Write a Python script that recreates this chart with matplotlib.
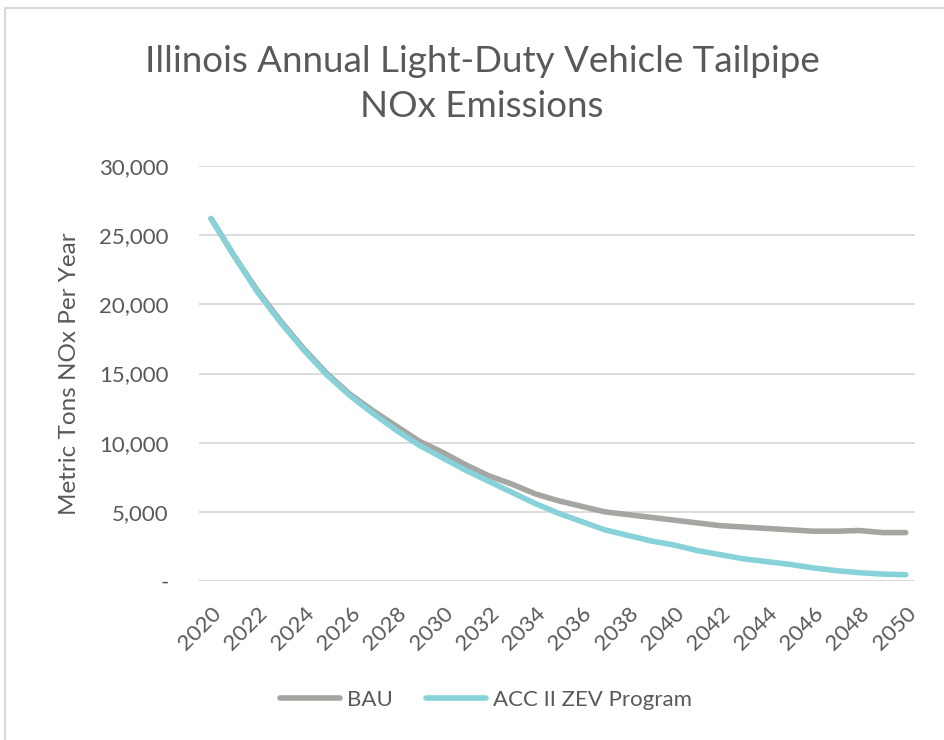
import matplotlib.pyplot as plt
from matplotlib.patches import Rectangle
from matplotlib.ticker import FuncFormatter

plt.rcParams["font.family"] = ["Lato", "DejaVu Sans"]

# Data
years = list(range(2020, 2051))
bau = [26200, 23500, 21000, 18800, 16800, 15000, 13500, 12300, 11200, 10100,
       9300, 8400, 7600, 7000, 6300, 5800, 5400, 5000, 4800, 4600,
       4400, 4200, 4000, 3900, 3800, 3700, 3600, 3600, 3650, 3500, 3500]
acc = [26200, 23500, 20900, 18700, 16700, 14900, 13400, 12100, 10900, 9800,
       8900, 8000, 7200, 6400, 5600, 4900, 4300, 3700, 3300, 2900,
       2600, 2200, 1900, 1600, 1400, 1200, 950, 750, 600, 500, 450]
tick_years = list(range(2020, 2051, 2))
title = "Illinois Annual Light-Duty Vehicle Tailpipe\nNOx Emissions"

text_color = "#595959"

fig = plt.figure(figsize=(9.45, 7.4), dpi=100)
# chart frame (only top and left edges fall inside the image)
fig.patches.append(Rectangle((5 / 945, -0.05), 1.0, 1.05 - 8 / 740,
                             transform=fig.transFigure, fill=False,
                             edgecolor="#D9D9D9", linewidth=1.5))

ax = fig.add_axes([199 / 945, 1 - 581 / 740, 716 / 945, 415 / 740])

ax.plot(years, bau, color="#A5A5A1", linewidth=4, solid_capstyle="round",
        label="BAU", zorder=3)
ax.plot(years, acc, color="#86D2D8", linewidth=4, solid_capstyle="round",
        label="ACC II ZEV Program", zorder=4)

ax.set_ylim(0, 30000)
ax.set_xlim(2019.48, 2050.4)
ax.set_yticks(range(0, 30001, 5000))
ax.yaxis.set_major_formatter(FuncFormatter(lambda v, p: "-" if v == 0 else f"{v:,.0f}"))
ax.set_xticks(tick_years)
ax.set_xticklabels([str(y) for y in tick_years], rotation=45, ha="right",
                   rotation_mode="anchor")

ax.grid(axis="y", color="#D9D9D9", linewidth=1.3)
ax.set_axisbelow(True)
for s in ax.spines.values():
    s.set_visible(False)
ax.tick_params(length=0, labelsize=16, colors=text_color)
ax.tick_params(axis="y", pad=22)
ax.tick_params(axis="x", pad=16)

ax.set_ylabel("Metric Tons NOx Per Year", fontsize=17.5, color=text_color, labelpad=14)

fig.text(482 / 945, 1 - 84 / 740, title, ha="center", va="center", fontsize=26.5,
         color=text_color, linespacing=1.45)

fig.legend(loc="center", bbox_to_anchor=(486 / 945, 1 - 700 / 740), ncol=2,
           frameon=False, fontsize=16, handlelength=2.7, columnspacing=1.5,
           handletextpad=0.3, labelcolor=text_color)

fig.savefig("out.png", dpi=100)
